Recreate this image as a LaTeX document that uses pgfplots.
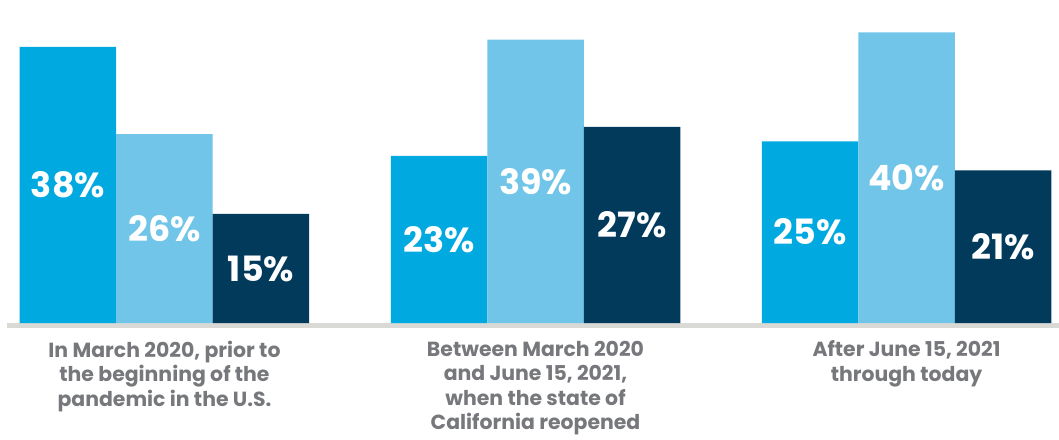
\documentclass[border=0pt]{standalone}
\usepackage{fontspec}
\setmainfont{Poppins}
\usepackage{pgfplots}
\pgfplotsset{compat=1.18}
\definecolor{cA}{HTML}{00A9E0}
\definecolor{cB}{HTML}{71C5E8}
\definecolor{cC}{HTML}{023A5C}
\definecolor{axgray}{HTML}{D9D9D6}
\definecolor{txtgray}{HTML}{76787B}
\begin{document}
\begin{tikzpicture}
\useasboundingbox (0,0) rectangle (1059bp,440bp);
\begin{axis}[
  at={(7bp,114.5bp)}, anchor=south west,
  scale only axis, width=1052bp, height=325.5bp,
  xmin=-0.4245, xmax=2.411, ymin=-0.344, ymax=44.45,
  ybar=0pt, bar width=96.5bp,
  axis x line*=bottom, axis y line=none,
  x axis line style={line width=5bp, draw=axgray, -},
  xtick={0,1,2}, xtick style={draw=none}, ytick=\empty,
  xticklabels={{In March 2020, prior to\\the beginning of the\\pandemic in the U.S.},
               {Between March 2020\\and June 15, 2021,\\when the state of\\California reopened},
               {After June 15, 2021\\through today}},
  xticklabel style={align=center, font=\fontsize{20.5}{24.5}\selectfont\bfseries, text=txtgray,
                    anchor=north, inner sep=0pt, yshift=-11bp},
  /pgf/number format/assume math mode=true,
  visualization depends on={rawy \as \myy},
  nodes near coords={\pgfmathprintnumber[assume math mode=true]{\pgfplotspointmeta}\%},
  every node near coord/.append style={anchor=center, text=white, inner sep=0pt,
     font=\fontsize{35}{35}\selectfont\bfseries, yshift={-\myy*3.633bp}},
]
\addplot[fill=cA, draw=none] coordinates {(0,38) (1,23) (2,25)};
\addplot[fill=cB, draw=none] coordinates {(0,26) (1,39) (2,40)};
\addplot[fill=cC, draw=none] coordinates {(0,15) (1,27) (2,21)};
\end{axis}
\end{tikzpicture}
\end{document}
